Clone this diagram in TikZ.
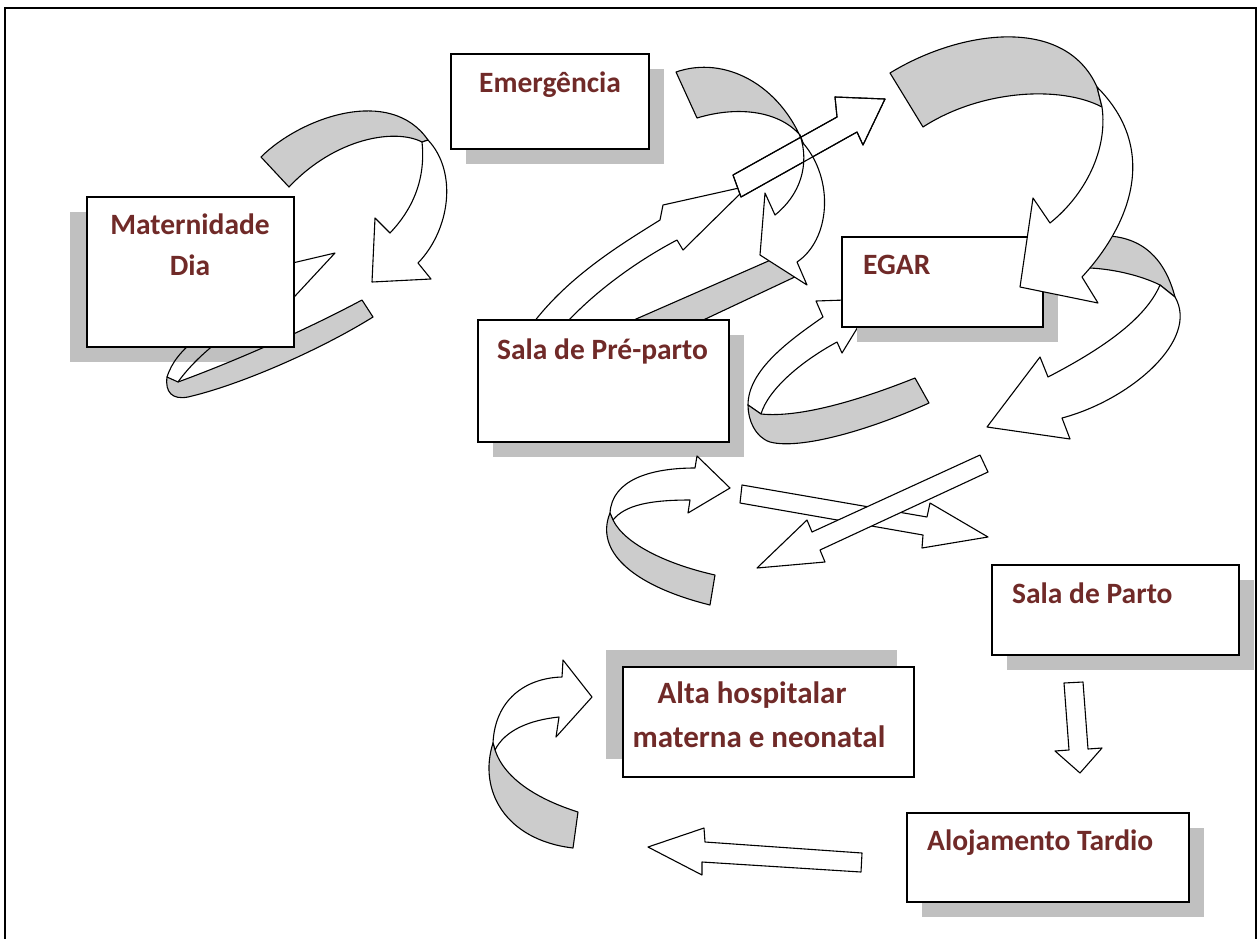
\documentclass[tikz,border=0pt]{standalone}
\usepackage{fontspec}
\setmainfont{Carlito}
\definecolor{bandgrey}{RGB}{204,204,204}
\definecolor{shadowgrey}{RGB}{192,192,192}
\definecolor{labelred}{RGB}{112,42,40}
\newcommand{\lblfont}{\fontsize{29.5}{35}\selectfont\bfseries}
\newcommand{\altafont}{\fontsize{31}{37}\selectfont\bfseries}
\tikzset{
  ln/.style={draw=black, line width=1.1pt, line join=round},
  band/.style={ln, fill=bandgrey},
  wband/.style={ln, fill=white},
  boxst/.style={draw=black, line width=1.8pt, fill=white, rectangle, inner sep=0pt, anchor=north west},
  shad/.style={fill=shadowgrey},
  lbl/.style={text=labelred, font=\lblfont, inner sep=0pt, anchor=base west},
}
\begin{document}
\begin{tikzpicture}[x=1pt,y=-1pt]
\useasboundingbox (0,0) rectangle (1258,938);
\fill[white] (0,0) rectangle (1258,938);
\draw[line width=1.4pt] (5,945) -- (5,8) -- (1256,8) -- (1256,945);

% ---------- Maternidade Dia ----------
\fill[shad] (70,212) rectangle (277,362);
% arrow 1 (top)
\path[band] (261,157) .. controls (300,118) and (390,85) .. (428,140) -- (422,142) .. controls (395,128) and (335,138) .. (289,187) -- cycle;
\path[wband] (422,142) .. controls (426,180) and (412,210) .. (390,233) -- (375,218) -- (372,282) -- (431,279) -- (418,263) .. controls (450,230) and (458,172) .. (428,140) -- cycle;
% arrow 2 (loop under box)
\path[band] (178,382) -- (167,377) .. controls (165,392) and (172,400) .. (188,397) .. controls (240,385) and (320,350) .. (373,317) -- (362,300) .. controls (300,333) and (230,363) .. (178,382) -- cycle;
\path[ln] (167,377) .. controls (172,362) and (180,352) .. (200,335) -- (250,273) -- (335,253) -- (270,323) -- (230,333) .. controls (205,350) and (188,368) .. (178,382);
\node[boxst, minimum width=207pt, minimum height=150pt] (mat) at (86,196) {};
\node[lbl, anchor=base] (matA) at (190,234) {Maternidade};
\node[lbl, anchor=base] (matB) at (190,275) {Dia};

% ---------- Emergencia ----------
\fill[shad] (466,69) rectangle (664,164);
\node[boxst, minimum width=198pt, minimum height=95pt] (emg) at (450,53) {};
\node[lbl] (emgT) at (479,92) {Emergência};

% ---------- arrows from Sala de Pre-parto ----------
\path[band] (611,330) -- (773,259) -- (799,275) -- (682,330) -- cycle;
\path[wband] (528,330) .. controls (565,278) and (620,245) .. (660,220) -- (663,205) -- (748,186) -- (683,250) -- (677,240) .. controls (635,262) and (590,295) .. (560,330) -- cycle;
\path[wband] (733,175) -- (837,117) -- (835,97) -- (885,99) -- (863,145) -- (857,132) -- (741,197) -- cycle;
% arrow 3 (right of Emergencia)
\path[band] (676,72) .. controls (725,55) and (780,85) .. (803,143) -- (800,135) .. controls (780,112) and (740,105) .. (697,118) -- cycle;
\path[wband] (800,135) .. controls (810,165) and (800,195) .. (775,215) -- (765,193) -- (760,255) -- (807,285) -- (797,262) .. controls (830,240) and (835,180) .. (803,143) -- cycle;
\path[ln] (733,175) -- (837,117) -- (835,97) -- (885,99) -- (863,145) -- (857,132) -- (741,197) -- cycle;

\fill[shad] (493,335) rectangle (744,457);
\node[boxst, minimum width=251pt, minimum height=122pt] (pre) at (477,319) {};
\node[lbl] (preT) at (497,359) {Sala de Pré-parto};

% ---------- EGAR ----------
% arrow 9 (loop left of EGAR)
\path[wband] (748,405) .. controls (748,370) and (790,340) .. (823,317) -- (816,301) -- (875,299) -- (842,353) -- (837,342) .. controls (800,362) and (768,390) .. (761,414) -- cycle;
\path[band] (761,414) .. controls (800,418) and (860,400) .. (915,378) -- (929,403) .. controls (870,430) and (800,450) .. (770,442) .. controls (755,437) and (748,420) .. (748,405) -- cycle;
\fill[shad] (857,252) rectangle (1058,342);
\node[boxst, minimum width=201pt, minimum height=90pt] (egar) at (841,236) {};
\node[lbl] (egarT) at (863,274) {EGAR};
% arrow 8 (EGAR -> Sala de Parto)
\path[band] (1070,240) .. controls (1120,228) and (1160,240) .. (1175,297) -- (1160,285) .. controls (1140,275) and (1105,266) .. (1070,268) -- cycle;
\path[wband] (1160,285) .. controls (1145,320) and (1100,350) .. (1048,377) -- (1040,357) -- (987,427) -- (1070,439) -- (1062,418) .. controls (1130,400) and (1200,340) .. (1175,297) -- cycle;
% arrow 7 (big top right)
\path[band] (890,73) .. controls (960,30) and (1065,15) .. (1097,87) -- (1102,107) .. controls (1060,85) and (980,90) .. (923,127) -- cycle;
\path[wband] (1102,107) .. controls (1108,150) and (1085,195) .. (1050,223) -- (1033,198) -- (1020,287) -- (1098,303) -- (1082,277) .. controls (1130,225) and (1160,150) .. (1097,87) -- cycle;

% ---------- middle arrows ----------
\path[wband] (610,513) .. controls (612,480) and (650,468) .. (695,468) -- (697,456) -- (730,488) -- (688,513) -- (690,500) .. controls (650,500) and (625,505) .. (613,520) -- cycle;
\path[band] (610,513) .. controls (595,550) and (630,585) .. (710,605) -- (715,575) .. controls (670,565) and (625,545) .. (613,520) -- cycle;
\path[wband] (742,485) -- (927,517) -- (930,503) -- (988,537) -- (922,548) -- (923,535) -- (740,503) -- cycle;
\path[wband] (980,455) -- (812,532) -- (807,520) -- (757,568) -- (825,562) -- (820,550) -- (988,472) -- cycle;

% ---------- Sala de Parto ----------
\fill[shad] (1007,580) rectangle (1254,670);
\node[boxst, minimum width=247pt, minimum height=90pt] (parto) at (991,564) {};
\node[lbl] (partoT) at (1012,603) {Sala de Parto};
\path[wband] (1064,683) -- (1069,750) -- (1055,751) -- (1080,773) -- (1102,748) -- (1088,749) -- (1083,682) -- cycle;

% ---------- Alta hospitalar ----------
\fill[shad] (606,650) rectangle (897,759);
\node[boxst, minimum width=291pt, minimum height=110pt] (alta) at (622,666) {};
\node[lbl, anchor=base, font=\altafont] (altaA) at (752,703) {Alta hospitalar};
\node[lbl, anchor=base, font=\altafont] (altaB) at (759,747) {materna e neonatal};
\path[wband] (493,743) .. controls (495,700) and (525,678) .. (562,677) -- (563,660) -- (592,697) -- (556,737) -- (559,717) .. controls (530,720) and (505,730) .. (495,750) -- cycle;
\path[band] (493,743) .. controls (478,790) and (505,840) .. (573,848) -- (578,812) .. controls (540,800) and (505,780) .. (495,750) -- cycle;
\path[wband] (648,847) -- (704,828) -- (705,842) -- (862,853) -- (861,872) -- (702,862) -- (702,875) -- cycle;

% ---------- Alojamento Tardio ----------
\fill[shad] (922,828) rectangle (1204,917);
\node[boxst, minimum width=282pt, minimum height=89pt] (aloj) at (906,812) {};
\node[lbl] (alojT) at (927,850) {Alojamento Tardio};
\end{tikzpicture}
\end{document}
